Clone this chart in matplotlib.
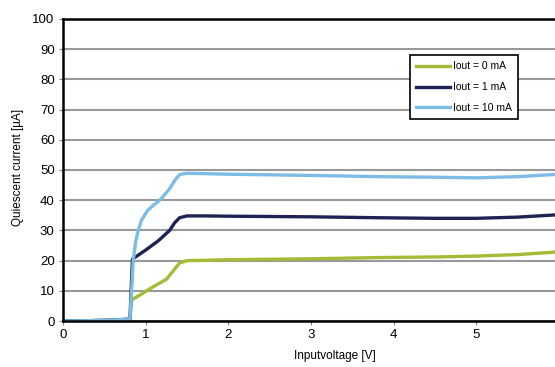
import numpy as np
import matplotlib.pyplot as plt

# Iout = 0 mA
v_0ma = [0.0, 0.3, 0.6, 0.79, 0.81, 0.83, 0.93, 1.0, 1.1, 1.25, 1.33, 1.41, 1.5, 1.7, 2.0, 3.0, 3.8, 4.5, 5.0, 5.5, 6.0]
i_0ma = [0.0, 0.1, 0.3, 0.6, 0.7, 7.0, 8.6, 9.8, 11.5, 13.8, 16.5, 19.2, 20.0, 20.1, 20.3, 20.6, 21.0, 21.2, 21.5, 22.0, 22.9]

# Iout = 1 mA
v_1ma = [0.0, 0.3, 0.6, 0.79, 0.81, 0.84, 1.0, 1.15, 1.29, 1.35, 1.41, 1.5, 1.7, 2.0, 3.0, 3.8, 4.5, 5.0, 5.5, 6.0]
i_1ma = [0.0, 0.1, 0.3, 0.6, 0.7, 20.5, 23.5, 26.5, 30.0, 32.5, 34.2, 34.8, 34.8, 34.7, 34.5, 34.2, 34.0, 34.0, 34.4, 35.2]

# Iout = 10 mA
v_10ma = [0.0, 0.3, 0.6, 0.79, 0.81, 0.83, 0.85, 0.88, 0.91, 0.95, 1.02, 1.1, 1.17, 1.29, 1.35, 1.41, 1.5, 1.7, 2.0, 3.0, 3.8, 4.5, 5.0, 5.5, 6.0]
i_10ma = [0.0, 0.1, 0.3, 0.6, 0.7, 10.0, 20.2, 26.5, 30.0, 33.4, 36.5, 38.5, 40.0, 43.8, 46.5, 48.5, 48.9, 48.8, 48.6, 48.2, 47.8, 47.6, 47.4, 47.8, 48.6]

labels = ["Iout = 0 mA", "Iout = 1 mA", "Iout = 10 mA"]
colors = ["#A3BC35", "#1E2355", "#7DBCE6"]

plt.rcParams['font.family'] = ['Liberation Sans', 'DejaVu Sans']

fig = plt.figure(figsize=(5.55, 3.67), dpi=100)
ax = fig.add_axes([0.1135, 0.1253, 0.894, 0.823])

ax.set_xlim(0, 6)
ax.set_ylim(0, 100)
ax.set_yticks(np.arange(0, 101, 10))
ax.set_xticks(np.arange(0, 7, 1))
ax.grid(axis='y', color='#999999', lw=1.5)
ax.set_axisbelow(True)

for v, i, lab, c in zip([v_0ma, v_1ma, v_10ma], [i_0ma, i_1ma, i_10ma], labels, colors):
    ax.plot(v, i, color=c, lw=2.4, label=lab, solid_joinstyle='round')

for s in ['left', 'bottom', 'top']:
    ax.spines[s].set_color('black')
    ax.spines[s].set_linewidth(1.8)
ax.spines['right'].set_visible(False)

ax.tick_params(axis='y', labelsize=9.5, length=3, color='#808080', pad=3)
ax.tick_params(axis='x', labelsize=9.5, length=3, color='#808080', pad=3)

# axis titles placed where the reference has them
fig.text(335 / 555, 1 - 356.5 / 367, "Inputvoltage [V]", fontsize=8.5, ha='center', va='center')
fig.text(18 / 555, 1 - 167 / 367, "Quiescent current [µA]", fontsize=8.5, ha='center', va='center', rotation=90)

leg = fig.legend(loc='upper left', bbox_to_anchor=(410 / 555, 1 - 55 / 367), fontsize=7.5,
                 frameon=True, fancybox=False, framealpha=1, edgecolor='black',
                 handlelength=3.2, handletextpad=0.3, labelspacing=1.05,
                 borderpad=0.6, borderaxespad=0)
leg.get_frame().set_linewidth(1.2)

fig.savefig("out.png", dpi=100)
